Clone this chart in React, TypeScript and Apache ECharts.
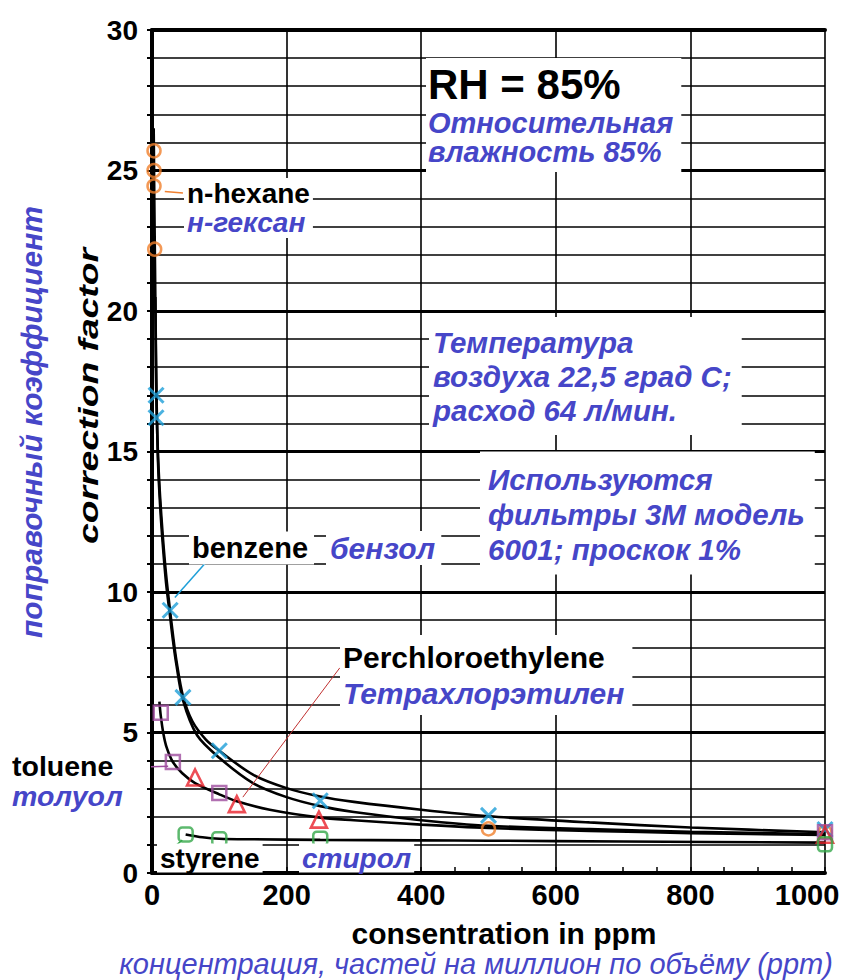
import React, { useEffect, useRef } from "react";
import * as echarts from "echarts";

// ---- axis settings ----
const xTicks = [0, 200, 400, 600, 800, 1000];
const yTicks = [0, 5, 10, 15, 20, 25, 30];

// ---- measured points (ppm, correction factor) ----
const hexanePoints = [[3, 25.7], [3, 25.0], [3, 24.45], [4, 22.2], [500, 1.57], [1000, 1.45]];
const benzenePoints = [[6, 17.0], [6, 16.2], [27, 9.35], [46, 6.25], [100, 4.35], [250, 2.57], [500, 2.05], [1000, 1.55]];
const toluenePoints = [[13, 5.7], [31, 3.95], [100, 2.85], [1000, 1.45]];
const percPoints = [[64, 3.4], [126, 2.45], [248, 1.9], [1000, 1.36]];
const styrenePoints = [[50, 1.37], [100, 1.2], [250, 1.22], [1000, 1.02]];

// ---- trend curves ----
const benzeneCurve = [[5, 20.5], [6, 17.6], [7, 16.4], [9, 14.8], [12, 13.4], [16, 12.0], [21, 10.6], [27, 9.3], [31, 8.5], [36, 7.6], [46, 6.3], [60, 5.4], [80, 4.75], [100, 4.35], [150, 3.5], [200, 3.02], [250, 2.72], [300, 2.53], [400, 2.25], [500, 2.02], [650, 1.8], [800, 1.62], [1000, 1.45]];
const hexaneCurve = [[2.5, 26.5], [3, 25.2], [3.5, 23.8], [4.5, 21.5], [5.5, 19.3], [7, 16.6], [9, 14.6], [12, 13.1], [16, 11.7], [21, 10.3], [27, 9.1], [31, 8.3], [36, 7.45], [46, 6.15], [67, 4.9], [100, 4.1], [150, 3.2], [200, 2.7], [250, 2.38], [300, 2.17], [400, 1.88], [500, 1.68], [650, 1.56], [800, 1.47], [1000, 1.38]];
const tolueneCurve = [[11, 6.1], [13, 5.6], [17, 4.95], [22, 4.45], [31, 3.95], [45, 3.55], [64, 3.2], [100, 2.8], [126, 2.55], [175, 2.25], [250, 1.97], [300, 1.88], [400, 1.72], [500, 1.6], [650, 1.5], [800, 1.42], [1000, 1.35]];
const styreneCurve = [[50, 1.37], [75, 1.27], [100, 1.22], [150, 1.2], [250, 1.18], [400, 1.16], [500, 1.15], [700, 1.12], [1000, 1.08]];

// ---- leader lines (data coords) ----
const hexaneLeader = [[19, 24.25], [46, 24.2]];
const benzeneLeader = [[34, 9.8], [82, 11.1]];
const tolueneLeader = [[-47, 3.74], [24, 3.8]];
const styreneLeader = [[27, 0.82], [45, 1.17]];
const percLeader = [[135, 2.7], [279, 7.3]];

const BLUE = "#4646c8";
const FONT = '"Liberation Sans", Arial, sans-serif';
const f = (size: number, italic = false, bold = true) =>
  `${italic ? "italic " : ""}${bold ? "bold" : "normal"} ${size}px ${FONT}`;

function rich(text: string, x: number, y: number, richStyles: any, o: any = {}) {
  return {
    type: "text",
    x,
    y,
    z: 50,
    rotation: o.rotation || 0,
    scaleX: o.scaleX || 1,
    style: {
      text,
      rich: richStyles,
      align: o.align || "left",
      verticalAlign: "middle",
      backgroundColor: o.bg === false ? undefined : "#fff",
      padding: o.padding || [2, 4, 2, 4],
    },
  };
}

export default function App() {
  const ref = useRef<HTMLDivElement>(null);
  useEffect(() => {
    if (!ref.current) return;
    const chart = echarts.init(ref.current, null, { renderer: "svg" });
    const curve = (data: number[][]) => ({
      type: "line",
      data,
      smooth: 0.3,
      showSymbol: false,
      symbol: "none",
      lineStyle: { color: "#000", width: 2.6 },
      z: 3,
      silent: true,
    });
    const leader = (data: number[][], color: string, width = 1.5) => ({
      type: "line",
      data,
      symbol: "none",
      clip: false,
      lineStyle: { color, width },
      z: 4,
      silent: true,
    });
    const marks = (data: number[][], symbol: string, size: number, color: string, bw = 2.5) => ({
      type: "scatter",
      data,
      symbol,
      symbolSize: size,
      itemStyle: { color: "rgba(0,0,0,0)", borderColor: color, borderWidth: bw },
      z: 5,
      silent: true,
    });
    const blk = (s: number, lh?: number) => ({ fill: "#000", font: f(s), lineHeight: lh });
    const blu = (s: number, lh?: number) => ({ fill: BLUE, font: f(s, true), lineHeight: lh });
    chart.setOption({
      animation: false,
      backgroundColor: "#fff",
      grid: { left: 152, right: 18, top: 30, bottom: 107 },
      xAxis: [
        {
          type: "value",
          min: xTicks[0],
          max: xTicks[xTicks.length - 1],
          interval: 200,
          axisLine: { show: true, onZero: false, lineStyle: { color: "#000", width: 4 } },
          axisTick: { show: true, inside: true, length: 6, lineStyle: { color: "#000", width: 1.5 } },
          minorTick: { show: true, splitNumber: 4, length: 6, lineStyle: { color: "#000", width: 1.5 } },
          splitLine: { show: true, lineStyle: { color: "#000", width: 1.6 } },
          axisLabel: {
            color: "#000",
            fontWeight: "bold",
            fontSize: 29,
            fontFamily: FONT,
            margin: 7,
            formatter: (v: number) => (v === xTicks[xTicks.length - 1] ? `{m|${v}}` : String(v)),
            rich: { m: { fontWeight: "bold", fontSize: 29, fontFamily: FONT, color: "#000", padding: [0, 36, 0, 0] } },
          },
        },
        {
          type: "value",
          position: "top",
          min: 0,
          max: 1000,
          axisLine: { show: true, onZero: false, lineStyle: { color: "#000", width: 4 } },
          axisTick: { show: false },
          axisLabel: { show: false },
          splitLine: { show: false },
        },
      ],
      yAxis: {
        type: "value",
        min: yTicks[0],
        max: yTicks[yTicks.length - 1],
        interval: 5,
        axisLine: { show: true, onZero: false, lineStyle: { color: "#000", width: 4 } },
        axisTick: { show: true, length: 5, lineStyle: { color: "#000", width: 2 } },
        minorTick: { show: true, splitNumber: 5, length: 5, lineStyle: { color: "#000", width: 2 } },
        splitLine: { show: true, lineStyle: { color: "#000", width: 3 } },
        minorSplitLine: { show: true, lineStyle: { color: "#000", width: 1.6 } },
        axisLabel: { color: "#000", fontWeight: "bold", fontSize: 28, fontFamily: FONT, margin: 14 },
      },
      series: [
        curve(benzeneCurve),
        curve(hexaneCurve),
        curve(tolueneCurve),
        curve(styreneCurve),
        leader(hexaneLeader, "#f08030", 1.5),
        leader(benzeneLeader, "#1e9fd8", 1.5),
        leader(tolueneLeader, "#9e4c9e", 1.5),
        leader(styreneLeader, "#34a84a", 1.5),
        leader(percLeader, "#c03030", 1),
        marks(hexanePoints, "circle", 13, "#f07f2c"),
        marks(benzenePoints, "path://M0 0L10 10M10 0L0 10", 15, "#1e9fd8", 3),
        marks(toluenePoints, "rect", 14, "#9e4c9e"),
        marks(percPoints, "triangle", 16, "#e8202a", 2.6),
        marks(styrenePoints, "roundRect", 14, "#34a84a"),
      ],
      graphic: [
        rich("{a|RH = 85%}\n{b|Относительная}\n{b|влажность 85%}", 426, 115, { a: blk(42, 48), b: blu(29, 29) }, { padding: [2, 8, 6, 2] }),
        rich("{b|Температура}\n{b|воздуха 22,5 град С;}\n{b|расход 64 л/мин.}", 429, 376, { b: blu(29.5, 34) }, { padding: [8, 10, 8, 4] }),
        rich("{b|Используются}\n{b|фильтры 3М модель}\n{b|6001; проскок 1%}", 480, 513, { b: blu(29.5, 35) }, { padding: [10, 10, 8, 8] }),
        rich("{a|benzene}", 189, 548, { a: blk(29) }, { padding: [2, 6, 2, 3] }),
        rich("{b|бензол}", 326, 548, { b: blu(30) }, { padding: [2, 6, 2, 4] }),
        rich("{a|n-hexane}\n{b|н-гексан}", 184, 208, { a: blk(28, 29), b: blu(28, 29) }, { padding: [1, 3, 1, 3] }),
        rich("{a|Perchloroethylene}\n{b|Тетрахлорэтилен}", 340, 675, { a: blk(30, 36), b: blu(30, 36) }, { padding: [4, 8, 4, 3] }),
        rich("{a|toluene}\n{b|толуол}", 9, 781, { a: blk(28.5, 29.5), b: blu(28.5, 29.5) }, { padding: [0, 3, 0, 3], bg: false }),
        rich("{a|styrene}", 157, 858, { a: blk(28) }, { padding: [1, 3, 0, 3] }),
        rich("{b|стирол}", 299, 858, { b: blu(28) }, { padding: [1, 3, 0, 3] }),
        rich("{a|consentration in ppm}", 504, 933, { a: blk(30) }, { align: "center", bg: false }),
        rich("{b|концентрация, частей на миллион по объёму (ppm)}", 476, 964, { b: { fill: BLUE, font: f(29, true, false) } }, { align: "center", bg: false }),
        rich("{b|поправочный коэффициент}", 31, 422, { b: blu(30) }, { align: "center", rotation: Math.PI / 2, bg: false }),
        rich("{a|correction factor}", 88, 396, { a: { fill: "#000", font: f(28, true) } }, { align: "center", rotation: Math.PI / 2, scaleX: 1.33, bg: false }),
      ],
    });
    return () => chart.dispose();
  }, []);
  return (
    <div
      ref={ref}
      style={{ position: "absolute", left: 0, top: 0, width: 843, height: 980, background: "#fff" }}
    />
  );
}
